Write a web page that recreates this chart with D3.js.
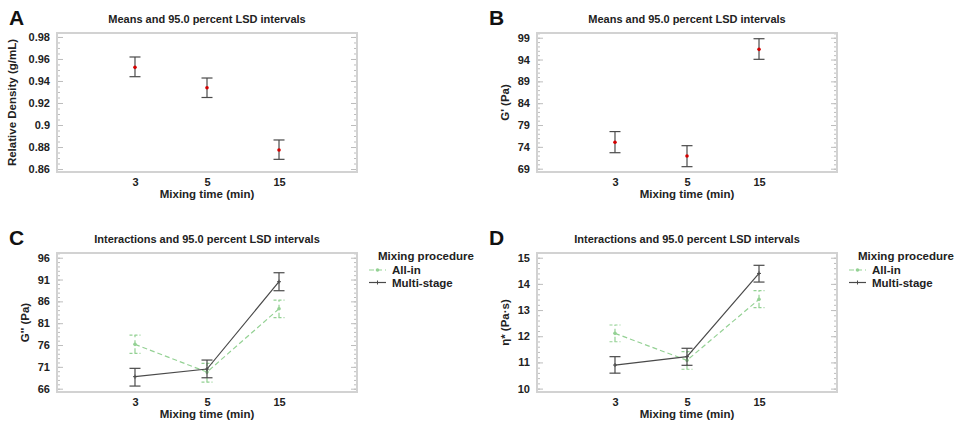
<!DOCTYPE html>
<html>
<head>
<meta charset="utf-8">
<script src="https://cdn.jsdelivr.net/npm/d3@7/dist/d3.min.js"></script>
<style>
  html, body { margin: 0; padding: 0; background: #fff; }
  svg { display: block; }
  text { font-family: "Liberation Sans", Arial, sans-serif; font-weight: bold; fill: #222; }
</style>
</head>
<body>
<svg id="chart" width="961" height="428"></svg>
<script>
// ---------- data ----------
const categories = ["3", "5", "15"];

// Panel A: Relative density
const densityMean  = [0.9524, 0.9339, 0.8773];
const densityLow   = [0.9439, 0.9250, 0.8688];
const densityHigh  = [0.9618, 0.9427, 0.8864];
const densityTicks = [0.86, 0.88, 0.9, 0.92, 0.94, 0.96, 0.98];

// Panel B: G'
const gPrimeMean  = [75.05, 71.9, 96.34];
const gPrimeLow   = [72.66, 69.46, 94.05];
const gPrimeHigh  = [77.5, 74.27, 98.77];
const gPrimeTicks = [69, 74, 79, 84, 89, 94, 99];

// Panel C: G''
const seriesNames = ["All-in", "Multi-stage"];
const g2AllInMean = [76.15, 69.8, 84.3];
const g2AllInLow  = [74.09, 67.5, 82.26];
const g2AllInHigh = [78.29, 71.8, 86.3];
const g2MultiMean = [68.75, 70.5, 90.5];
const g2MultiLow  = [66.6, 68.5, 88.44];
const g2MultiHigh = [70.66, 72.56, 92.56];
const g2Ticks = [66, 71, 76, 81, 86, 91, 96];

// Panel D: eta*
const etaAllInMean = [12.11, 11.08, 13.41];
const etaAllInLow  = [11.79, 10.74, 13.09];
const etaAllInHigh = [12.43, 11.41, 13.74];
const etaMultiMean = [10.9, 11.22, 14.4];
const etaMultiLow  = [10.59, 10.89, 14.07];
const etaMultiHigh = [11.22, 11.54, 14.71];
const etaTicks = [10, 11, 12, 13, 14, 15];

// ---------- drawing ----------
const svg = d3.select("#chart");
const W = 300, H = 139;
const GREEN = "#94d194", DARK = "#4a4a4a", RED = "#d40000";

function makeSeries(mean, low, high) {
  return categories.map((c, i) => ({ cat: c, mean: mean[i], low: low[i], high: high[i] }));
}

function styleText(sel, size) {
  sel.style("font-size", size).style("font-family", "Liberation Sans, Arial, sans-serif")
    .style("font-weight", "bold").attr("fill", "#222");
}

function panel(opt) {
  const g = svg.append("g").attr("transform", `translate(${opt.x0},${opt.y0})`);
  const x = d3.scalePoint().domain(categories).range([0, W]).padding(1.083);
  const y = d3.scaleLinear().domain(opt.domain).range([H, 0]);

  svg.append("text").attr("x", opt.x0 - 48).attr("y", opt.y0 - 8)
    .style("font-size", "21px").style("fill", "#111").text(opt.letter);
  g.append("text").attr("x", W / 2).attr("y", -10).attr("text-anchor", "middle")
    .style("font-size", "11px").text(opt.title);

  const [lo, hi] = opt.domain;
  const start = Math.ceil(lo / opt.minorStep - 1e-6) * opt.minorStep;
  const minorVals = [];
  for (let v = start; v <= hi + 1e-9; v += opt.minorStep) minorVals.push(+v.toFixed(6));
  const axL = d3.axisRight(y).tickValues(minorVals).tickSize(3).tickFormat("");
  const axR = d3.axisLeft(y).tickValues(minorVals).tickSize(3).tickFormat("");
  const majL = d3.axisRight(y).tickValues(opt.ticks).tickSize(6).tickFormat("");
  const majR = d3.axisLeft(y).tickValues(opt.ticks).tickSize(6).tickFormat("");
  [[axL, 0], [majL, 0], [axR, W], [majR, W]].forEach(([ax, tx]) => {
    const a = g.append("g").attr("transform", `translate(${tx},0)`).call(ax);
    a.select(".domain").remove();
    a.selectAll("line").attr("stroke", "#bdbdbd").attr("stroke-width", 1);
  });

  const lab = g.append("g").call(d3.axisLeft(y).tickValues(opt.ticks).tickSize(0).tickPadding(7)
    .tickFormat(opt.fmt));
  lab.select(".domain").remove();
  styleText(lab.selectAll("text"), "11px");

  const xl = g.append("g").attr("transform", `translate(0,${H})`)
    .call(d3.axisBottom(x).tickSize(0).tickPadding(6));
  xl.select(".domain").remove();
  styleText(xl.selectAll("text"), "11px");

  g.append("text").attr("x", W / 2).attr("y", H + 25.5).attr("text-anchor", "middle")
    .style("font-size", "11.5px").text("Mixing time (min)");

  g.append("text").attr("transform", `translate(${opt.yTitleX},${H / 2}) rotate(-90)`)
    .attr("text-anchor", "middle").style("font-size", "11.5px").text(opt.yTitle);

  g.append("rect").attr("x", 0).attr("y", 0).attr("width", W).attr("height", H)
    .attr("fill", "none").attr("stroke", "#d2d2d2").attr("stroke-width", 2);

  const cap = 5.5;
  opt.series.forEach(s => {
    const data = s.data;
    if (s.line) {
      g.append("path").datum(data)
        .attr("d", d3.line().x(d => x(d.cat)).y(d => y(d.mean)))
        .attr("fill", "none").attr("stroke", s.color).attr("stroke-width", 1.2)
        .attr("stroke-dasharray", s.dash || null);
    }
    const eb = g.append("g").selectAll("g").data(data).join("g");
    eb.append("line").attr("x1", d => x(d.cat)).attr("x2", d => x(d.cat))
      .attr("y1", d => y(d.low)).attr("y2", d => y(d.high))
      .attr("stroke", s.color).attr("stroke-width", 1.2).attr("stroke-dasharray", s.dash || null);
    ["low", "high"].forEach(k => {
      eb.append("line").attr("x1", d => x(d.cat) - cap).attr("x2", d => x(d.cat) + cap)
        .attr("y1", d => y(d[k])).attr("y2", d => y(d[k]))
        .attr("stroke", s.color).attr("stroke-width", 1.2).attr("stroke-dasharray", s.dash ? "3,2" : null);
    });
    if (s.marker === "dot") {
      eb.append("circle").attr("cx", d => x(d.cat)).attr("cy", d => y(d.mean)).attr("r", 1.8)
        .attr("fill", s.markerColor);
    } else if (s.marker === "plus") {
      eb.append("path").attr("d", d => `M${x(d.cat) - 2},${y(d.mean)}h4M${x(d.cat)},${y(d.mean) - 2}v4`)
        .attr("stroke", s.color).attr("stroke-width", 1);
    }
  });

  if (opt.legend) {
    const lg = svg.append("g").attr("transform", `translate(${opt.x0 + W + 21},${opt.y0})`);
    lg.append("text").attr("x", 0).attr("y", 6.5).style("font-size", "11.5px").text("Mixing procedure");
    opt.series.forEach((s, i) => {
      const yy = 17 + i * 12.5;
      lg.append("line").attr("x1", -9).attr("x2", 8).attr("y1", yy).attr("y2", yy)
        .attr("stroke", s.color).attr("stroke-width", 1.2).attr("stroke-dasharray", s.dash || null);
      if (s.marker === "dot") lg.append("circle").attr("cx", -0.5).attr("cy", yy).attr("r", 1.8).attr("fill", s.color);
      else lg.append("path").attr("d", `M-2.5,${yy}h4M-0.5,${yy - 2}v4`).attr("stroke", s.color);
      lg.append("text").attr("x", 14).attr("y", yy + 4).style("font-size", "11.5px").text(seriesNames[i]);
    });
  }
}

const meansTitle = "Means and 95.0 percent LSD intervals";
const interTitle = "Interactions and 95.0 percent LSD intervals";

panel({ letter: "A", x0: 57, y0: 33, title: meansTitle, domain: [0.8573, 0.9836],
  ticks: densityTicks, minorStep: 0.005, fmt: d => d3.format("")(d), yTitle: "Relative Density (g/mL)", yTitleX: -41,
  series: [{ data: makeSeries(densityMean, densityLow, densityHigh), color: DARK, marker: "dot", markerColor: RED }] });

panel({ letter: "B", x0: 537, y0: 33, title: meansTitle, domain: [68.24, 100.08],
  ticks: gPrimeTicks, minorStep: 1, fmt: d3.format("d"), yTitle: "G' (Pa)", yTitleX: -28,
  series: [{ data: makeSeries(gPrimeMean, gPrimeLow, gPrimeHigh), color: DARK, marker: "dot", markerColor: RED }] });

panel({ letter: "C", x0: 57, y0: 253, title: interTitle, domain: [65.24, 97.08],
  ticks: g2Ticks, minorStep: 1, fmt: d3.format("d"), yTitle: "G'' (Pa)", yTitleX: -28, legend: true,
  series: [
    { data: makeSeries(g2AllInMean, g2AllInLow, g2AllInHigh), color: GREEN, dash: "5,3", line: true, marker: "dot", markerColor: GREEN },
    { data: makeSeries(g2MultiMean, g2MultiLow, g2MultiHigh), color: DARK, line: true, marker: "plus" }
  ] });

panel({ letter: "D", x0: 537, y0: 253, title: interTitle, domain: [9.87, 15.18],
  ticks: etaTicks, minorStep: 0.2, fmt: d3.format("d"), yTitle: "η* (Pa·s)", yTitleX: -28, legend: true,
  series: [
    { data: makeSeries(etaAllInMean, etaAllInLow, etaAllInHigh), color: GREEN, dash: "5,3", line: true, marker: "dot", markerColor: GREEN },
    { data: makeSeries(etaMultiMean, etaMultiLow, etaMultiHigh), color: DARK, line: true, marker: "plus" }
  ] });
</script>
</body>
</html>
